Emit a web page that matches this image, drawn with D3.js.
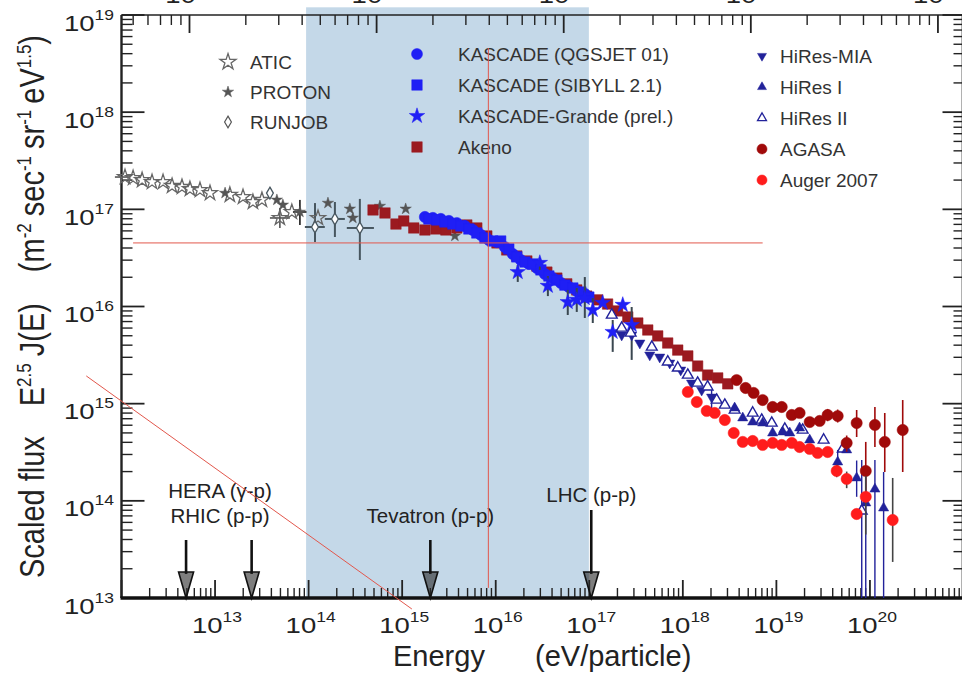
<!DOCTYPE html>
<html><head><meta charset="utf-8">
<script src="https://cdn.jsdelivr.net/npm/d3@7"></script>
<style>
body{margin:0;background:#fff;}
svg{display:block;font-family:"Liberation Sans",Arial,Helvetica,sans-serif;}
</style></head><body>
<svg id="chart" width="962" height="673"></svg>
<script>
// ---------------- DATA (energy in eV, scaled flux) ----------------
const atic = [
 {e:1.09e12,f:2.15e17,eLo:8.5e11,eHi:1.25e12},{e:1.33e12,f:2.10e17},{e:1.66e12,f:2.00e17},
 {e:2.12e12,f:1.91e17},{e:2.78e12,f:1.91e17},{e:3.47e12,f:1.74e17},{e:4.43e12,f:1.70e17},
 {e:5.39e12,f:1.62e17},{e:6.90e12,f:1.58e17},{e:8.83e12,f:1.47e17},{e:1.44e13,f:1.41e17},
 {e:1.99e13,f:1.34e17},{e:2.54e13,f:1.19e17},{e:3.17e13,f:1.25e17},
 {e:4.93e13,f:8.15e16,fLo:6.43e16,fHi:1.03e17,eLo:3.86e13,eHi:6.31e13},
 {e:6.62e13,f:9.39e16},{e:1.26e14,f:8.15e16}
];
const proton = [
 {e:1.28e13,f:1.47e17},{e:4.58e13,f:1.25e17},{e:5.31e13,f:1.11e17},
 {e:8.07e13,f:9.39e16,fLo:6.90e16,fHi:1.25e17,eLo:6.8e13,eHi:9.5e13},
 {e:1.61e14,f:1.16e17},{e:2.76e14,f:1.01e17},{e:2.97e14,f:8.15e16},
 {e:5.78e14,f:1.08e17},{e:1.09e15,f:1.01e17},{e:3.66e15,f:5.32e16}
];
const runjob = [
 {e:3.86e13,f:1.47e17},
 {e:1.17e14,f:6.58e16,fLo:4.61e16,fHi:1.16e17,eLo:9.12e13,eHi:1.49e14},
 {e:1.91e14,f:7.96e16,fLo:5.19e16,fHi:1.19e17,eLo:1.49e14,eHi:2.44e14},
 {e:3.53e14,f:6.43e16,fLo:3.01e16,fHi:1.28e17,eLo:2.56e14,eHi:4.99e14}
];
const akeno = [
 [4.88e14,9.85e16],[6.55e14,9.17e16],[8.58e14,7.06e16],[1.04e15,7.59e16],[1.33e15,6.43e16],
 [1.75e15,6.13e16],[2.29e15,6.28e16],[2.93e15,6.13e16],[3.84e15,6.43e16],[4.91e15,6.90e16],
 [6.28e15,6.43e16],[8.03e15,5.32e16],[1.03e16,4.51e16],[1.31e16,3.82e16],[1.68e16,3.31e16],
 [2.15e16,2.94e16],[2.75e16,2.61e16],[3.52e16,2.26e16],[4.50e16,1.96e16],[5.75e16,1.71e16],
 [7.35e16,1.48e16],[9.40e16,1.28e16],[1.23e17,1.17e16],[1.57e17,1.06e16],[2.01e17,9.0e15],
 [2.58e17,7.80e15],[3.30e17,6.76e15],[4.22e17,5.73e15],[5.39e17,4.98e15],[6.89e17,4.21e15],
 [8.82e17,3.56e15],[1.13e18,3.10e15],[1.44e18,2.44e15],[1.84e18,1.97e15],[2.36e18,1.84e15],
 [3.02e18,1.60e15]
].map(([e,f])=>({e,f}));
const kascadeQGS = [
 [1.75e15,8.34e16],[2.13e15,8.15e16],[2.59e15,7.96e16],[3.16e15,7.59e16],[3.84e15,7.23e16],
 [4.68e15,6.74e16],[5.70e15,6.13e16],[6.94e15,5.45e16],[8.45e15,4.83e16],[1.03e16,4.61e16],
 [1.25e16,4.09e16],[1.52e16,3.47e16],[1.85e16,3.01e16],[2.26e16,2.74e16],[2.75e16,2.49e16],
 [3.35e16,2.16e16],[4.07e16,1.96e16],[4.96e16,1.75e16],[6.04e16,1.59e16],[7.36e16,1.44e16],
 [8.96e16,1.35e16]
].map(([e,f])=>({e,f}));
const kascadeSIB = [
 [1.93e15,7.96e16],[2.35e15,7.77e16],[2.86e15,7.41e16],[3.48e15,7.06e16],[4.24e15,6.74e16],
 [5.16e15,6.28e16],[6.28e15,5.71e16],[7.65e15,5.07e16],[9.31e15,4.72e16],[1.13e16,4.72e16],
 [1.38e16,3.91e16],[1.68e16,3.24e16],[2.05e16,2.87e16],[2.49e16,2.74e16],[3.04e16,2.38e16],
 [3.70e16,2.06e16],[4.50e16,1.87e16],[5.48e16,1.66e16],[6.67e16,1.55e16],[8.13e16,1.41e16],
 [9.89e16,1.25e16]
].map(([e,f])=>({e,f}));
const grande = [
 {e:1.72e16,f:2.26e16,fLo:1.79e16,fHi:2.67e16},{e:2.96e16,f:2.81e16,fLo:2.38e16,fHi:3.16e16},
 {e:3.61e16,f:1.63e16,fLo:1.28e16,fHi:2.06e16},{e:5.89e16,f:1.11e16,fLo:8.18e15,fHi:1.48e16},
 {e:7.35e16,f:1.17e16,fLo:8.79e15,fHi:1.55e16},{e:8.96e16,f:1.22e16,fLo:7.62e15,fHi:2.01e16},
 {e:1.09e17,f:9.21e15,fLo:6.76e15,fHi:1.22e16},{e:1.39e17,f:1.09e16},
 {e:1.78e17,f:5.47e15,fLo:3.41e15,fHi:7.26e15},{e:2.28e17,f:1.04e16},
 {e:2.84e17,f:6.45e15,fLo:2.82e15,fHi:9.88e15}
];
const hiresMIA = [
 {e:2.22e17,f:5.09e15},{e:2.84e17,f:5.09e15},{e:3.47e17,f:4.21e15},{e:4.43e17,f:3.17e15},
 {e:5.66e17,f:3.02e15},{e:7.24e17,f:2.62e15},{e:9.49e17,f:2.22e15},{e:1.24e18,f:1.63e15},
 {e:1.59e18,f:1.38e15},{e:2.03e18,f:1.17e15,fLo:7.5e14,fHi:1.4e15}
];
const hiresI = [
 {e:3.58e18,f:9.03e14},{e:4.37e18,f:7.13e14},{e:5.58e18,f:6.47e14},{e:7.13e18,f:6.32e14},
 {e:9.12e18,f:4.99e14},{e:1.17e19,f:5.11e14},{e:1.39e19,f:4.99e14},{e:1.77e19,f:5.62e14},
 {e:2.27e19,f:4.23e14},{e:4.52e19,f:2.51e14,fLo:2.03e14,fHi:3.34e14},{e:5.64e19,f:3.34e14},
 {e:7.21e19,f:1.72e14,fLo:1.1e14,fHi:2.6e14},{e:9.02e19,f:9.51e13,fLo:1e12,fHi:1.94e14},
 {e:1.13e20,f:1.32e14,fLo:1e12,fHi:2.63e14},{e:1.40e20,f:8.43e13,fLo:1e12,fHi:1.98e14}
];
const hiresII = [
 {e:1.74e17,f:8.18e15},{e:2.22e17,f:6.01e15},{e:2.77e17,f:5.34e15},{e:4.66e17,f:3.83e15},
 {e:6.90e17,f:2.69e15},{e:8.83e17,f:2.33e15},{e:1.13e18,f:1.97e15},{e:1.44e18,f:1.63e15},
 {e:1.84e18,f:1.49e15},{e:2.30e18,f:1.09e15},{e:2.81e18,f:9.69e14},{e:3.58e18,f:8.61e14},
 {e:5.58e18,f:8.02e14},{e:6.97e18,f:6.79e14},{e:8.92e18,f:6.32e14},{e:1.23e19,f:5.48e14},
 {e:1.91e19,f:5.36e14},{e:3.20e19,f:4.23e14},{e:5.12e19,f:3.42e14},
 {e:8.17e19,f:7.87e13,fLo:1e12,fHi:2.63e14}
];
const agasa = [
 {e:3.76e18,f:1.75e15},{e:4.69e18,f:1.45e15},{e:5.71e18,f:1.29e15},{e:7.13e18,f:1.09e15},
 {e:9.12e18,f:9.24e14},{e:1.14e19,f:9.24e14},{e:1.46e19,f:7.65e14},{e:1.77e19,f:8.02e14},
 {e:2.27e19,f:6.47e14},{e:2.90e19,f:6.64e14},{e:3.53e19,f:7.65e14,fLo:6.6e14,fHi:8.8e14},
 {e:4.52e19,f:7.46e14,fLo:6.4e14,fHi:8.7e14},{e:5.64e19,f:3.94e14,fLo:3.2e14,fHi:4.7e14},
 {e:7.21e19,f:6.32e14,fLo:4.54e14,fHi:8.61e14},{e:9.02e19,f:2.03e14,fLo:1.10e14,fHi:4.04e14},
 {e:1.13e20,f:6.04e14,fLo:3.58e14,fHi:9.24e14},{e:1.44e20,f:4.04e14,fLo:1.98e14,fHi:8.02e14},
 {e:2.24e20,f:5.36e14,fLo:1.98e14,fHi:1.09e15}
];
const auger = [
 {e:1.13e18,f:1.32e15},{e:1.41e18,f:1.04e15},{e:1.80e18,f:8.41e14},{e:2.19e18,f:8.02e14},
 {e:2.81e18,f:6.79e14},{e:3.50e18,f:4.99e14},{e:4.37e18,f:4.04e14},{e:5.58e18,f:4.13e14},
 {e:7.13e18,f:3.76e14},{e:9.12e18,f:3.94e14},{e:1.14e19,f:3.76e14},{e:1.46e19,f:3.94e14},
 {e:1.77e19,f:3.58e14},{e:2.27e19,f:3.42e14},{e:2.76e19,f:3.11e14},{e:3.53e19,f:3.18e14},
 {e:4.41e19,f:2.03e14,fLo:1.75e14,fHi:2.35e14},{e:5.64e19,f:1.68e14,fLo:1.35e14,fHi:2.0e14},
 {e:7.21e19,f:7.32e13},{e:9.02e19,f:1.10e14,fLo:4.5e13,fHi:1.8e14},
 {e:1.75e20,f:6.35e13,fLo:2.35e13,fHi:1.72e14}
];
// accelerator equivalent lab energies
const accelerators = [
 {name:"HERA", e:4.9e12}, {name:"RHIC", e:2.46e13}, {name:"Tevatron", e:2.0e15}, {name:"LHC", e:1.05e17}
];
const accLabels = [
 {text:"HERA (γ-p)", e:1.13e13, row:0},
 {text:"RHIC (p-p)", e:1.13e13, row:1},
 {text:"Tevatron (p-p)", e:2.0e15, row:1},
 {text:"LHC (p-p)", e:1.05e17, row:0}
];
// highlighted region and guide lines
const shadeE = [9.4e13, 9.9e16];
const shadeTopF = 1.2e19;
const guideH = {e0:1.33e12, e1:7.13e18, f:4.51e16};
const guideV = {e:8.34e15, f0:4.57e18, f1:1.27e13};
const guideD = {e0:4.2e11, f0:1.93e15, e1:1.27e15, f1:7.7e12};
const xTickExps = [13,14,15,16,17,18,19,20];
const yTickExps = [13,14,15,16,17,18,19];
const protonMass = 0.938e9;

// ---------------- SCALES ----------------
const svg = d3.select("#chart");
const X0=121.5, X1=963.5, Y0=598, Y1=15;
const x = d3.scaleLog().domain([1e12,1e21]).range([X0,X1]);
const y = d3.scaleLog().domain([1e13,1e19]).range([Y0,Y1]);
const xTop = d3.scaleLog().domain([Math.sqrt(2*protonMass*1e12), Math.sqrt(2*protonMass*1e21)]).range([X0,X1]);
const isMajor = t => Math.abs(Math.log10(t)-Math.round(Math.log10(t)))<1e-6;

svg.append("rect").attr("width",962).attr("height",673).attr("fill","#fff");
const defs = svg.append("defs");
defs.append("clipPath").attr("id","pc").append("rect").attr("x",100).attr("y",Y1).attr("width",870).attr("height",Y0-Y1);

// shading
svg.append("rect").attr("x",x(shadeE[0])).attr("y",y(shadeTopF))
  .attr("width",x(shadeE[1])-x(shadeE[0])).attr("height",y(1e13)-y(shadeTopF))
  .attr("fill","#c4d8e8");

// ---------------- AXES ----------------
const ax = svg.append("g").attr("stroke","#222");
x.ticks().forEach(t=>{
  const m=isMajor(t);
  ax.append("line").attr("x1",x(t)).attr("x2",x(t)).attr("y1",Y0).attr("y2",Y0-(m?18:10)).attr("stroke-width",m?1.8:1.4);
});
xTop.ticks().forEach(t=>{
  const m=isMajor(t);
  ax.append("line").attr("x1",xTop(t)).attr("x2",xTop(t)).attr("y1",Y1).attr("y2",Y1+(m?18:10)).attr("stroke-width",m?1.8:1.4);
});
y.ticks().forEach(t=>{
  const m=isMajor(t);
  ax.append("line").attr("y1",y(t)).attr("y2",y(t)).attr("x1",X0).attr("x2",X0+(m?23:11)).attr("stroke-width",m?1.8:1.4);
  ax.append("line").attr("y1",y(t)).attr("y2",y(t)).attr("x1",962.5).attr("x2",962.5-(m?20:9)).attr("stroke-width",m?1.8:1.4);
});
ax.append("line").attr("x1",X0).attr("x2",X0).attr("y1",Y1).attr("y2",Y0).attr("stroke-width",2.4);
ax.append("line").attr("x1",X0).attr("x2",X1).attr("y1",Y1).attr("y2",Y1).attr("stroke-width",1.7);
ax.append("line").attr("x1",962.5).attr("x2",962.5).attr("y1",Y1).attr("y2",Y0).attr("stroke-width",1.7);
ax.append("line").attr("x1",X0-1).attr("x2",X1).attr("y1",Y0).attr("y2",Y0).attr("stroke-width",3.6).attr("stroke","#111");

function powLabel(parent, tx, ty, n, anchor){
  const t = parent.append("text").attr("transform",`translate(${tx},${ty}) scale(1.25,1)`)
    .attr("text-anchor",anchor).attr("font-size",22).attr("fill","#222");
  t.append("tspan").text("10");
  t.append("tspan").attr("dy",-11).attr("font-size",14).text(n);
}
yTickExps.forEach(n=>powLabel(svg,114,y(Math.pow(10,n))+15.5,n,"end"));
xTickExps.forEach(n=>powLabel(svg,x(Math.pow(10,n))+2,633,n,"middle"));
// top (centre-of-mass) axis labels: lie mostly above the visible frame, as in the original
xTop.ticks().filter(isMajor).forEach(t=>powLabel(svg,xTop(t),3,Math.round(Math.log10(t)),"middle"));

// axis titles
svg.append("text").attr("x",393).attr("y",666).attr("font-size",29).attr("fill","#222").text("Energy");
svg.append("text").attr("x",535).attr("y",666).attr("font-size",29).attr("fill","#222").text("(eV/particle)");
const yt = svg.append("text").attr("transform","translate(44,578) scale(1.2,1) rotate(-90)")
  .attr("font-size",29).attr("fill","#222");
yt.append("tspan").text("Scaled flux");
yt.append("tspan").attr("dx",30).text("E");
yt.append("tspan").attr("dy",-11).attr("font-size",17).text("2.5");
yt.append("tspan").attr("dy",11).attr("dx",7).text("J(E)");
yt.append("tspan").attr("dx",31).text("(m");
yt.append("tspan").attr("dy",-11).attr("font-size",17).text("-2");
yt.append("tspan").attr("dy",11).attr("dx",7).text("sec");
yt.append("tspan").attr("dy",-11).attr("font-size",17).text("-1");
yt.append("tspan").attr("dy",11).attr("dx",7).text("sr");
yt.append("tspan").attr("dy",-11).attr("font-size",17).text("-1");
yt.append("tspan").attr("dy",11).attr("dx",6).text("eV");
yt.append("tspan").attr("dy",-11).attr("font-size",17).text("1.5");
yt.append("tspan").attr("dy",11).text(")");

// ---------------- DATA MARKS ----------------
const plot = svg.append("g").attr("clip-path","url(#pc)");
function errBars(data,color,w){
  const g = plot.append("g").attr("stroke",color).attr("stroke-width",w);
  data.filter(d=>d.fLo).forEach(d=>g.append("line").attr("x1",x(d.e)).attr("x2",x(d.e)).attr("y1",y(Math.max(d.fLo,1e12))).attr("y2",y(d.fHi)));
  data.filter(d=>d.eLo).forEach(d=>g.append("line").attr("y1",y(d.f)).attr("y2",y(d.f)).attr("x1",x(d.eLo)).attr("x2",x(d.eHi)));
}
function marks(data,type,size,fill,stroke,sw,rot){
  plot.append("g").selectAll("path").data(data).join("path")
    .attr("d",d3.symbol().type(type).size(size)())
    .attr("transform",d=>`translate(${x(d.e)},${y(d.f)})${rot?" rotate(180)":""}`)
    .attr("fill",fill).attr("stroke",stroke).attr("stroke-width",sw);
}
const C = {kas:"#1f1ff5", ake:"#9b1a20", hir:"#22229a", aga:"#a00a0a", aug:"#ff1c1c", gray:"#666"};

errBars(atic,"#555",1.6);
errBars(proton,"#333",1.8);
errBars(runjob,"#47565f",2);
marks(atic,d3.symbolStar,70,"none","#666",1.3);
marks(proton,d3.symbolStar,40,"#555","#555",0.5);
marks(runjob,d3.symbolDiamond,40,"#fff","#47565f",1.3);
marks(akeno,d3.symbolSquare,110,C.ake,C.ake,0.5);
marks(kascadeQGS,d3.symbolCircle,100,C.kas,C.kas,0.5);
marks(kascadeSIB,d3.symbolSquare,110,C.kas,C.kas,0.5);
errBars(grande,"#3a4750",2);
marks(grande,d3.symbolStar,75,C.kas,C.kas,0.5);
errBars(hiresMIA,C.hir,1.4);
errBars(hiresI,C.hir,1.4);
errBars(hiresII,C.hir,1.4);
marks(hiresMIA,d3.symbolTriangle,45,C.hir,C.hir,0.5,true);
marks(hiresII,d3.symbolTriangle,50,"#fff",C.hir,1.4);
marks(hiresI,d3.symbolTriangle,45,C.hir,C.hir,0.5);
errBars(agasa,C.aga,1.6);
marks(agasa,d3.symbolCircle,100,C.aga,C.aga,0.5);
errBars(auger,"#444",1.6);
marks(auger,d3.symbolCircle,100,C.aug,C.aug,0.5);

// ---------------- ACCELERATOR ARROWS ----------------
accelerators.forEach(a=>{
  const ax0 = x(a.e), top = a.name==="LHC"?Y0-88:Y0-58;
  svg.append("line").attr("x1",ax0).attr("x2",ax0).attr("y1",top).attr("y2",Y0-24)
    .attr("stroke","#111").attr("stroke-width",2.6);
  svg.append("path").attr("d",`M${ax0-7.5},${Y0-26}L${ax0+7.5},${Y0-26}L${ax0},${Y0}Z`)
    .attr("fill","rgba(40,40,40,0.6)").attr("stroke","#111").attr("stroke-width",1.6);
});
accLabels.forEach(l=>{
  const base = l.text.startsWith("LHC") ? 502 : (l.row===0?498:523);
  svg.append("text").attr("x",x(l.e)).attr("y",base).attr("text-anchor","middle")
    .attr("font-size",20.5).attr("fill","#222").text(l.text);
});

// ---------------- LEGEND ----------------
const legend = [
 {col:0,row:0,label:"ATIC",type:d3.symbolStar,size:80,fill:"none",stroke:"#666",sw:1.3},
 {col:0,row:1,label:"PROTON",type:d3.symbolStar,size:40,fill:"#555",stroke:"#555",sw:0.5},
 {col:0,row:2,label:"RUNJOB",type:d3.symbolDiamond,size:40,fill:"#fff",stroke:"#555",sw:1.2},
 {col:1,row:0,label:"KASCADE (QGSJET 01)",type:d3.symbolCircle,size:95,fill:C.kas,stroke:C.kas,sw:0.5},
 {col:1,row:1,label:"KASCADE (SIBYLL 2.1)",type:d3.symbolSquare,size:110,fill:C.kas,stroke:C.kas,sw:0.5},
 {col:1,row:2,label:"KASCADE-Grande (prel.)",type:d3.symbolStar,size:75,fill:C.kas,stroke:C.kas,sw:0.5},
 {col:1,row:3,label:"Akeno",type:d3.symbolSquare,size:110,fill:C.ake,stroke:C.ake,sw:0.5},
 {col:2,row:0,label:"HiRes-MIA",type:d3.symbolTriangle,size:35,fill:C.hir,stroke:C.hir,sw:0.5,rot:true},
 {col:2,row:1,label:"HiRes I",type:d3.symbolTriangle,size:35,fill:C.hir,stroke:C.hir,sw:0.5},
 {col:2,row:2,label:"HiRes II",type:d3.symbolTriangle,size:35,fill:"#fff",stroke:C.hir,sw:1.3},
 {col:2,row:3,label:"AGASA",type:d3.symbolCircle,size:80,fill:C.aga,stroke:C.aga,sw:0.5},
 {col:2,row:4,label:"Auger 2007",type:d3.symbolCircle,size:80,fill:C.aug,stroke:C.aug,sw:0.5}
];
const cols = [{sx:228,tx:250,y0:62,dy:30},{sx:417,tx:458,y0:54,dy:31},{sx:762,tx:780,y0:56,dy:31}];
legend.forEach(d=>{
  const c=cols[d.col], yy=c.y0+d.row*c.dy;
  svg.append("path").attr("d",d3.symbol().type(d.type).size(d.size)())
    .attr("transform",`translate(${c.sx},${yy})${d.rot?" rotate(180)":""}`)
    .attr("fill",d.fill).attr("stroke",d.stroke).attr("stroke-width",d.sw);
  svg.append("text").attr("x",c.tx).attr("y",yy+7).attr("font-size",19).attr("fill","#333").text(d.label);
});

// ---------------- GUIDE LINES ----------------
const gl = svg.append("g").attr("stroke","#e2574c").attr("stroke-width",1).attr("fill","none");
gl.append("line").attr("x1",x(guideH.e0)).attr("x2",x(guideH.e1)).attr("y1",y(guideH.f)).attr("y2",y(guideH.f));
gl.append("line").attr("x1",x(guideV.e)).attr("x2",x(guideV.e)).attr("y1",y(guideV.f0)).attr("y2",y(guideV.f1));
gl.append("line").attr("x1",x(guideD.e0)).attr("y1",y(guideD.f0)).attr("x2",x(guideD.e1)).attr("y2",y(guideD.f1));
</script>
</body></html>
